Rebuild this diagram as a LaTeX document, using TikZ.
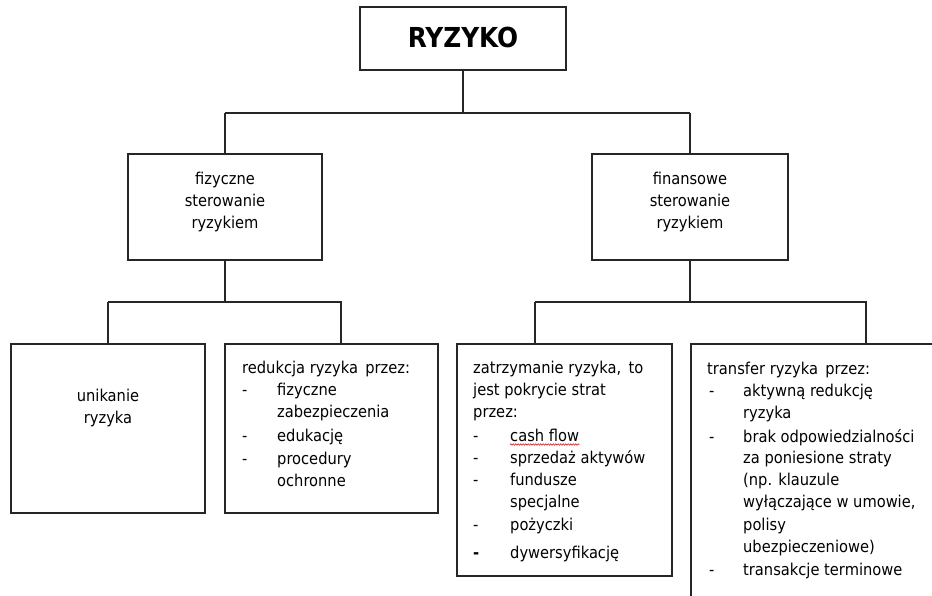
\documentclass[tikz,border=0pt]{standalone}
\usepackage{fontspec}
\setmainfont{DejaVu Sans Condensed}
\usetikzlibrary{decorations.pathmorphing}
\tikzset{
  box/.style={draw=black!85, line width=1.2pt, rectangle, inner sep=0pt},
  link/.style={draw=black!85, line width=1.2pt},
  txt/.style={anchor=base west, inner sep=0pt, font=\fontsize{16.3}{19}\selectfont, text=black},
  ctxt/.style={anchor=base, inner sep=0pt, font=\fontsize{16.3}{19}\selectfont, text=black},
}
\begin{document}
\begin{tikzpicture}[x=1pt,y=-1pt]
\useasboundingbox (0,0) rectangle (932,595);
\clip (0,0) rectangle (932,595);
% boxes
\node[box, minimum width=206pt, minimum height=63pt] (root) at (463,38.5) {};
\node[anchor=base, inner sep=0pt, font=\fontsize{27.5}{30}\selectfont\bfseries] (roottxt) at (463,47.5) {RYZYKO};
\node[box, minimum width=194pt, minimum height=106pt] (fiz) at (225,207) {};
\node[box, minimum width=196pt, minimum height=106pt] (fin) at (690,207) {};
\node[box, minimum width=194pt, minimum height=169pt] (uni) at (108,428.5) {};
\node[box, minimum width=213pt, minimum height=169pt] (red) at (331.5,428.5) {};
\node[box, minimum width=215pt, minimum height=232pt] (zat) at (564.5,460) {};
\node[box, minimum width=260pt, minimum height=280pt] (tra) at (821,484) {};
% junction coordinates
\coordinate (j0) at (463,113);
\coordinate (j1) at (225,302);
\coordinate (j2) at (690,302);
% connectors
\draw[link] (root.south) -- (j0);
\draw[link] (fiz.north |- j0) -- (fin.north |- j0);
\draw[link] (fiz.north |- j0) -- (fiz.north);
\draw[link] (fin.north |- j0) -- (fin.north);
\draw[link] (fiz.south) -- (j1);
\draw[link] (108,302) -- (uni.north);
\draw[link] (108,302) -- (341,302) -- (341,344);
\draw[link] (fin.south) -- (j2);
\draw[link] (535,302) -- (535,344);
\draw[link] (535,302) -- (866,302) -- (866,344);
% level 1 text
\foreach \y/\t [count=\i] in {184/fizyczne, 206/sterowanie, 228/ryzykiem}
  \node[ctxt] (fizt\i) at (225,\y) {\t};
\foreach \y/\t [count=\i] in {184/finansowe, 206/sterowanie, 228/ryzykiem}
  \node[ctxt] (fint\i) at (690,\y) {\t};
% unikanie
\node[ctxt] (unit1) at (108,401) {unikanie};
\node[ctxt] (unit2) at (108,423) {ryzyka};
% redukcja
\node[txt] (redt0) at (242,373) {redukcja ryzyka\ \,przez:};
\foreach \y in {395,441,464}
  \node[txt] at (242,\y) {-};
\foreach \y/\t [count=\i] in {395/fizyczne, 417/zabezpieczenia, 441/edukację, 464/procedury, 486/ochronne}
  \node[txt] (redt\i) at (277,\y) {\t};
% zatrzymanie
\node[txt] (zatt0) at (473,373) {zatrzymanie ryzyka,\ \,to};
\node[txt] (zatta) at (473,395) {jest pokrycie strat};
\node[txt] (zattb) at (473,417) {przez:};
\foreach \y in {441,463,485,530}
  \node[txt] at (473,\y) {-};
\node[txt, font=\fontsize{16.3}{19}\selectfont\bfseries] at (473,558) {-};
\foreach \y/\t [count=\i] in {441/cash flow, 463/sprzedaż aktywów, 485/fundusze, 507/specjalne, 530/pożyczki, 558/dywersyfikację}
  \node[txt] (zatt\i) at (510,\y) {\t};
\draw[red!80!black, line width=0.5pt, decorate, decoration={snake, amplitude=0.8pt, segment length=2.5pt}]
  ([yshift=-3.5pt]zatt1.base west) -- ([yshift=-3.5pt]zatt1.base east);
% transfer
\node[txt] (trat0) at (707,374) {transfer ryzyka\ \,przez:};
\foreach \y in {396,442,575}
  \node[txt] at (709,\y) {-};
\foreach \y/\t [count=\i] in {396/aktywną redukcję, 418/ryzyka, 442/brak odpowiedzialności, 463/za poniesione straty, 485/(np. klauzule, 507/{wyłączające w umowie,}, 530/polisy, 552/ubezpieczeniowe), 575/transakcje terminowe}
  \node[txt] (trat\i) at (743,\y) {\t};
\end{tikzpicture}
\end{document}
